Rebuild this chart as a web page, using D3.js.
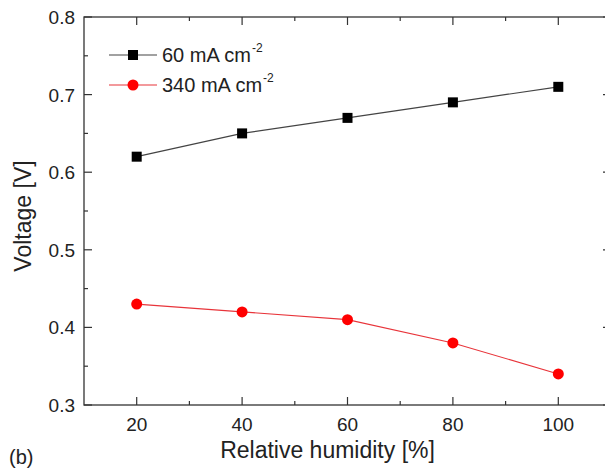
<!DOCTYPE html>
<html>
<head>
<meta charset="utf-8">
<script src="https://cdn.jsdelivr.net/npm/d3@7"></script>
<style>
  html, body { margin: 0; padding: 0; background: #fff; }
  svg text { font-family: "Liberation Sans", Arial, sans-serif; fill: #222; }
</style>
</head>
<body>
<svg id="chart" width="605" height="469"></svg>
<script>
// ── Data ──
const humidity = [20, 40, 60, 80, 100];
const v60 = [0.62, 0.65, 0.67, 0.69, 0.71];
const v340 = [0.43, 0.42, 0.41, 0.38, 0.34];
const xTicks = [20, 40, 60, 80, 100];
const yTicks = [0.3, 0.4, 0.5, 0.6, 0.7, 0.8];
const seriesNames = ["60 mA cm", "340 mA cm"];

const W = 605, H = 469;
const m = { left: 84, top: 17, right: -6, bottom: 64 };
const svg = d3.select("#chart");

const x = d3.scaleLinear().domain([10, 110]).range([m.left, W - m.right]);
const y = d3.scaleLinear().domain([0.3, 0.8]).range([H - m.bottom, m.top]);

const xMinor = d3.range(30, 110, 20);
const yMinor = d3.range(0.35, 0.8, 0.1);

// ── Frame ──
const x0 = x.range()[0], x1 = x.range()[1], y0 = y.range()[0], y1 = y.range()[1];
svg.append("rect").attr("x", x0).attr("y", y1).attr("width", x1 - x0).attr("height", y0 - y1)
  .attr("fill", "none").attr("stroke", "#333").attr("stroke-width", 1.3);

// ── Ticks (inward, on all sides) ──
const tk = svg.append("g").attr("stroke", "#333").attr("stroke-width", 1.2);
const tickX = (vals, len) => vals.forEach(v => {
  tk.append("line").attr("x1", x(v)).attr("x2", x(v)).attr("y1", y0).attr("y2", y0 - len);
  tk.append("line").attr("x1", x(v)).attr("x2", x(v)).attr("y1", y1).attr("y2", y1 + len);
});
const tickY = (vals, len) => vals.forEach(v => {
  tk.append("line").attr("y1", y(v)).attr("y2", y(v)).attr("x1", x0).attr("x2", x0 + len);
  tk.append("line").attr("y1", y(v)).attr("y2", y(v)).attr("x1", x1).attr("x2", x1 - len);
});
tickX(xTicks, 8); tickX(xMinor, 4);
tickY(yTicks, 8); tickY(yMinor, 4);

// ── Tick labels ──
svg.append("g").selectAll("text").data(xTicks).join("text")
  .attr("x", d => x(d)).attr("y", y0 + 26).attr("text-anchor", "middle")
  .style("font-size", "19px").text(d => d);
svg.append("g").selectAll("text").data(yTicks).join("text")
  .attr("x", x0 - 9).attr("y", d => y(d) + 7).attr("text-anchor", "end")
  .style("font-size", "19px").text(d => d3.format(".1f")(d));

// ── Axis titles ──
svg.append("text").attr("x", (x(20) + x(100)) / 2 - 20).attr("y", 458).attr("text-anchor", "middle")
  .style("font-size", "23px").text("Relative humidity [%]");
svg.append("text").attr("transform", `translate(31,${(y0 + y1) / 2 + 5}) rotate(-90)`).attr("text-anchor", "middle")
  .style("font-size", "23px").text("Voltage [V]");
svg.append("text").attr("x", 9).attr("y", 464).style("font-size", "20px").text("(b)");

// ── Series ──
const line = d3.line().x((d, i) => x(humidity[i])).y(d => y(d));
svg.append("path").datum(v60).attr("d", line).attr("fill", "none").attr("stroke", "#444").attr("stroke-width", 1.2);
svg.append("path").datum(v340).attr("d", line).attr("fill", "none").attr("stroke", "#e8343a").attr("stroke-width", 1.1);

svg.append("g").selectAll("rect").data(v60).join("rect")
  .attr("x", (d, i) => x(humidity[i]) - 5).attr("y", d => y(d) - 5)
  .attr("width", 10).attr("height", 10).attr("fill", "#000");
svg.append("g").selectAll("circle").data(v340).join("circle")
  .attr("cx", (d, i) => x(humidity[i])).attr("cy", d => y(d)).attr("r", 5.5).attr("fill", "#f00");

// ── Legend ──
const lg = svg.append("g");
const legRows = [
  { name: seriesNames[0], color: "#444", mark: "square", yy: 55 },
  { name: seriesNames[1], color: "#e8343a", mark: "circle", yy: 85 }
];
legRows.forEach(r => {
  lg.append("line").attr("x1", 109).attr("x2", 157).attr("y1", r.yy).attr("y2", r.yy)
    .attr("stroke", r.color).attr("stroke-width", 1.1);
  if (r.mark === "square") {
    lg.append("rect").attr("x", 128).attr("y", r.yy - 5).attr("width", 10).attr("height", 10).attr("fill", "#000");
  } else {
    lg.append("circle").attr("cx", 133).attr("cy", r.yy).attr("r", 5.5).attr("fill", "#f00");
  }
  const t = lg.append("text").attr("x", 162).attr("y", r.yy + 7).style("font-size", "20px");
  t.append("tspan").text(r.name);
  t.append("tspan").attr("dy", -10).attr("dx", 1).style("font-size", "12px").text("-2");
});
</script>
</body>
</html>
